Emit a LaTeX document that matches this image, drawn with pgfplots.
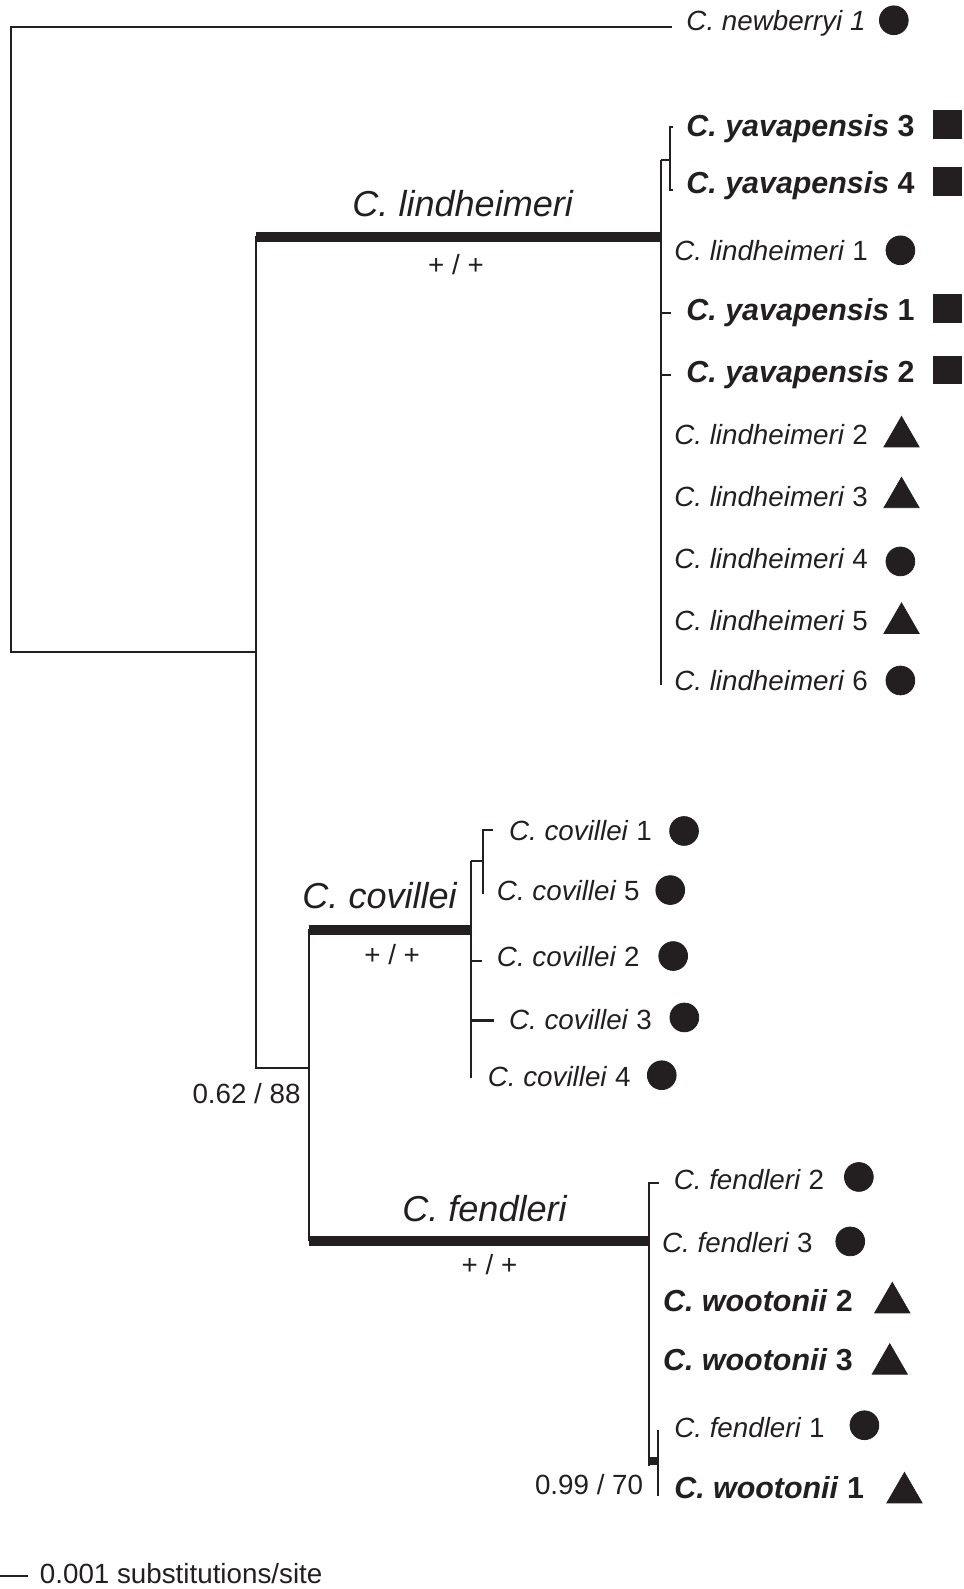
\documentclass[border=0pt]{standalone}
\usepackage{pgfplots}
\pgfplotsset{compat=1.18}
\usepackage{fontspec}
\setmainfont{Liberation Sans}
\definecolor{ink}{RGB}{35,31,32}
\newcommand{\rl}[2]{{\fontsize{13.7}{16}\selectfont\textit{#1} #2}}
\newcommand{\bl}[2]{{\fontsize{15}{18}\selectfont\bfseries\textit{#1} #2}}
\newcommand{\cl}[1]{{\fontsize{17.8}{21}\selectfont\textit{#1}}}
\newcommand{\sm}[1]{{\fontsize{13.7}{16}\selectfont #1}}
\begin{document}
\begin{tikzpicture}
\begin{axis}[
  hide axis, scale only axis,
  width=475.5pt, height=784pt,
  xmin=0, xmax=951, ymin=0, ymax=1568,
  y dir=reverse, clip=false,
  unbounded coords=jump,
  every axis plot/.append style={ink, line join=miter},
]
% thin branches
\addplot[line width=1pt, mark=none] coordinates {
 (663,27) (11,27) (11,643) (253,643) (nan,nan)
 (253,233) (253,1054) (305,1054) (nan,nan)
 (305,917) (305,1225) (nan,nan)
 (652,158) (652,676) (nan,nan)
 (652,158) (661,158) (nan,nan)
 (664,125.5) (661,125.5) (661,187.5) (664,187.5) (nan,nan)
 (652,309) (662,309) (nan,nan)
 (652,370) (662,370) (nan,nan)
 (465,850) (465,1064) (nan,nan)
 (465,850) (477,850) (nan,nan)
 (486,819) (477,819) (477,882) (nan,nan)
 (465,948) (476,948) (nan,nan)
 (465,1007) (487,1007) (nan,nan)
 (650,1167) (640,1167) (640,1447) (nan,nan)
 (649,1411) (649,1476) (nan,nan)
 (0,1555) (28,1555)
};
% thick (supported) branches
\addplot[line width=5pt, mark=none] coordinates {
 (252.5,234) (652,234) (nan,nan)
 (304.5,918) (465,918) (nan,nan)
 (304.5,1225) (640,1225)
};
\addplot[line width=4pt, mark=none] coordinates {(639.5,1442) (649,1442)};
% geographic markers
\addplot[only marks, mark=*, mark size=7.1pt, ink] coordinates {
 (882,20) (888.5,247) (888.5,554) (888.5,671.5)
 (675,820) (661.4,878.3) (664.3,943.4) (675.3,1004) (653,1061)
 (847.5,1161.4) (839,1225) (853,1406.4)
};
\addplot[only marks, mark=triangle*, mark size=10pt, ink] coordinates {
 (889.6,431) (889.6,491) (889.6,615)
 (880.5,1285.5) (878,1346) (892.5,1473)
};
\addplot[only marks, mark=square*, mark size=6.9pt, ink] coordinates {
 (935,123) (935,179) (935,304) (935,365)
};
% tip labels
\tikzset{lab/.style={anchor=base west, inner sep=0pt, text=ink}}
\node[lab] at (axis cs:677,29.8) {{\fontsize{13.7}{16}\selectfont\textit{C. newberryi 1}}};
\node[lab] at (axis cs:677,135) {\bl{C. yavapensis}{3}};
\node[lab] at (axis cs:677,191) {\bl{C. yavapensis}{4}};
\node[lab] at (axis cs:665,257.5) {\rl{C. lindheimeri}{1}};
\node[lab] at (axis cs:677,316) {\bl{C. yavapensis}{1}};
\node[lab] at (axis cs:677,377.5) {\bl{C. yavapensis}{2}};
\node[lab] at (axis cs:665,439) {\rl{C. lindheimeri}{2}};
\node[lab] at (axis cs:665,500) {\rl{C. lindheimeri}{3}};
\node[lab] at (axis cs:665,561) {\rl{C. lindheimeri}{4}};
\node[lab] at (axis cs:665,622) {\rl{C. lindheimeri}{5}};
\node[lab] at (axis cs:665,681.5) {\rl{C. lindheimeri}{6}};
\node[lab] at (axis cs:502,829) {\rl{C. covillei}{1}};
\node[lab] at (axis cs:490,889) {\rl{C. covillei}{5}};
\node[lab] at (axis cs:490,954) {\rl{C. covillei}{2}};
\node[lab] at (axis cs:502,1016) {\rl{C. covillei}{3}};
\node[lab] at (axis cs:481,1072) {\rl{C. covillei}{4}};
\node[lab] at (axis cs:664.5,1174) {\rl{C. fendleri}{2}};
\node[lab] at (axis cs:653,1236) {\rl{C. fendleri}{3}};
\node[lab] at (axis cs:654,1294.5) {\bl{C. wootonii}{2}};
\node[lab] at (axis cs:654,1352.5) {\bl{C. wootonii}{3}};
\node[lab] at (axis cs:665,1418) {\rl{C. fendleri}{1}};
\node[lab] at (axis cs:665,1479) {\bl{C. wootonii}{1}};
% clade labels and support values
\node[anchor=base, inner sep=0pt, text=ink] at (axis cs:457,214) {\cl{C. lindheimeri}};
\node[anchor=base, inner sep=0pt, text=ink] at (axis cs:375,896) {\cl{C. covillei}};
\node[anchor=base, inner sep=0pt, text=ink] at (axis cs:478.5,1205) {\cl{C. fendleri}};
\node[anchor=base, inner sep=0pt, text=ink] at (axis cs:450,271) {\sm{+ / +}};
\node[anchor=base, inner sep=0pt, text=ink] at (axis cs:387,952) {\sm{+ / +}};
\node[anchor=base, inner sep=0pt, text=ink] at (axis cs:483,1258) {\sm{+ / +}};
\node[anchor=base east, inner sep=0pt, text=ink] at (axis cs:297,1089) {\sm{0.62 / 88}};
\node[anchor=base east, inner sep=0pt, text=ink] at (axis cs:635,1475) {\sm{0.99 / 70}};
\node[lab] at (axis cs:39,1563) {\sm{0.001 substitutions/site}};
\end{axis}
\pgfresetboundingbox
\path (0,0) rectangle (475.5pt,784pt);
\end{tikzpicture}
\end{document}
